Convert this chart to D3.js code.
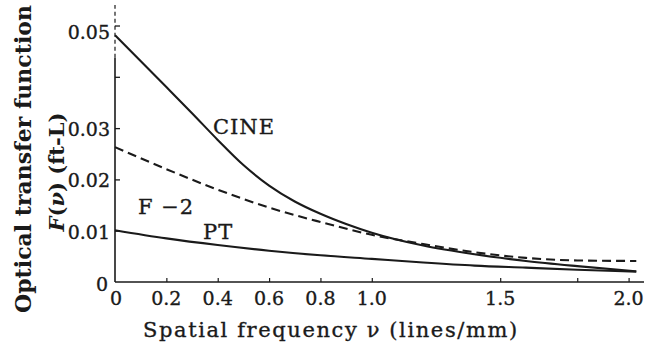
<!DOCTYPE html>
<html>
<head>
<meta charset="utf-8">
<script src="https://cdn.jsdelivr.net/npm/d3@7"></script>
<style>
  html, body { margin: 0; padding: 0; background: #fff; }
  svg { display: block; }
  text { font-family: "DejaVu Serif", "Liberation Serif", serif; fill: #1a1a1a; }
  .heavy { stroke: #1a1a1a; stroke-width: 0.35; }
</style>
</head>
<body>
<svg id="chart" width="652" height="349"></svg>
<script>
// Spatial frequency samples (lines/mm)
const freqs = [0, 0.2, 0.3, 0.4, 0.5, 0.6, 0.7, 0.8, 0.9, 1.0, 1.2, 1.4, 1.6, 1.8, 2.03];
// Optical transfer function F(ν) in ft-L for each film
const cine = [0.0481, 0.0380, 0.0329, 0.0277, 0.0228, 0.0188, 0.0157, 0.0133, 0.0113, 0.0096, 0.0071, 0.0054, 0.0041, 0.0031, 0.0021];
const f2Freqs = [0, 0.2, 0.4, 0.6, 0.8, 1.0, 1.2, 1.4, 1.6, 1.8, 2.03];
const f2 = [0.0263, 0.0220, 0.0180, 0.0145, 0.0117, 0.0092, 0.0074, 0.0058, 0.0047, 0.0042, 0.0041];
const ptFreqs = [0, 0.2, 0.4, 0.6, 0.8, 1.0, 1.2, 1.4, 1.6, 1.8, 2.03];
const pt = [0.0101, 0.0085, 0.0072, 0.0061, 0.0052, 0.0045, 0.0038, 0.0032, 0.0028, 0.0024, 0.0020];

// Axis ticks
const xTicks = [0, 0.2, 0.4, 0.6, 0.8, 1.0, 1.5, 2.0];
const xTickLabels = ["0", "0.2", "0.4", "0.6", "0.8", "1.0", "1.5", "2.0"];
const yTicks = [0.01, 0.02, 0.03, 0.04, 0.05];
const yTickLabels = ["0.01", "0.02", "0.03", "", "0.05"];

const svg = d3.select("#chart");
const x = d3.scaleLinear().domain([0, 2.06]).range([115, 644]);
const y = d3.scaleLinear().domain([0, 0.054]).range([282, 5]);

const ink = "#1a1a1a";

// Y axis: solid up to 0.044, dashed continuation above
svg.append("line").attr("x1", x(0)).attr("x2", x(0)).attr("y1", y(0)).attr("y2", y(0.0437))
  .attr("stroke", ink).attr("stroke-width", 1.6);
svg.append("line").attr("x1", x(0)).attr("x2", x(0)).attr("y1", y(0.0437)).attr("y2", y(0.054))
  .attr("stroke", ink).attr("stroke-width", 1.2).attr("stroke-dasharray", "4,3");

// X axis line
svg.append("line").attr("x1", x(0)).attr("x2", x(2.06)).attr("y1", y(0)).attr("y2", y(0))
  .attr("stroke", ink).attr("stroke-width", 1.4);

// Y ticks (inside) and labels
const yAxis = d3.axisRight(y).tickValues(yTicks).tickSize(5).tickFormat("");
const yg = svg.append("g").attr("transform", `translate(${x(0)},0)`).call(yAxis);
yg.select(".domain").remove();
yg.selectAll(".tick line").attr("stroke", ink).attr("stroke-width", 1.3);

svg.append("g").selectAll("text").data(yTicks).join("text")
  .attr("class", "heavy")
  .attr("x", 110).attr("y", d => y(d) + (d === 0.05 ? 6 : 1))
  .attr("text-anchor", "end").attr("dominant-baseline", "central")
  .attr("font-size", 19)
  .text((d, i) => yTickLabels[i]);
svg.append("text").attr("class", "heavy").attr("x", 108).attr("y", y(0) + 2)
  .attr("text-anchor", "end").attr("dominant-baseline", "central")
  .attr("font-size", 19).text("0");

// X ticks (upward) and labels
const xAxis = d3.axisTop(x).tickValues(xTicks.filter(d => d > 0).concat([1.8])).tickSize(4).tickFormat("");
const xg = svg.append("g").attr("transform", `translate(0,${y(0)})`).call(xAxis);
xg.select(".domain").remove();
xg.selectAll(".tick line").attr("stroke", ink).attr("stroke-width", 1.2);

svg.append("g").selectAll("text").data(xTicks).join("text")
  .attr("class", "heavy")
  .attr("x", d => x(d) + (d === 0 ? 1 : 0)).attr("y", 305)
  .attr("text-anchor", "middle").attr("font-size", 19)
  .text((d, i) => xTickLabels[i]);

// Curves
const line = d3.line().x(d => x(d[0])).y(d => y(d[1])).curve(d3.curveMonotoneX);
const series = [
  { xs: freqs, ys: cine, dash: null },
  { xs: f2Freqs, ys: f2, dash: "9,5" },
  { xs: ptFreqs, ys: pt, dash: null }
];
svg.append("g").selectAll("path").data(series).join("path")
  .attr("d", s => line(s.xs.map((v, i) => [v, s.ys[i]])))
  .attr("fill", "none").attr("stroke", ink).attr("stroke-width", 2.1)
  .attr("stroke-dasharray", s => s.dash);

// Curve labels
svg.append("text").attr("class", "heavy").attr("x", 213).attr("y", 134)
  .attr("font-size", 21).attr("letter-spacing", 1).text("CINE");
svg.append("text").attr("class", "heavy").attr("x", 138).attr("y", 214)
  .attr("font-size", 21).attr("letter-spacing", 1).text("F −2");
svg.append("text").attr("class", "heavy").attr("x", 203).attr("y", 239)
  .attr("font-size", 21).attr("letter-spacing", 1).text("PT");

// Axis titles
svg.append("text").attr("class", "heavy").attr("x", 143).attr("y", 337)
  .attr("font-size", 21).attr("letter-spacing", 1.6)
  .text("Spatial frequency ν (lines/mm)");

yTitle();
function yTitle() {
  const g = svg.append("g");
  g.append("text").attr("transform", "translate(31,159) rotate(-90)")
    .attr("text-anchor", "middle").attr("font-size", 22).attr("font-weight", "bold")
    .text("Optical transfer function");
  const t2 = g.append("text").attr("transform", "translate(64,172) rotate(-90)")
    .attr("text-anchor", "middle").attr("font-size", 21).attr("font-weight", "bold");
  t2.append("tspan").attr("font-style", "italic").text("F");
  t2.append("tspan").text("(");
  t2.append("tspan").attr("font-style", "italic").text("ν");
  t2.append("tspan").text(")  (ft-L)");
}
</script>
</body>
</html>
